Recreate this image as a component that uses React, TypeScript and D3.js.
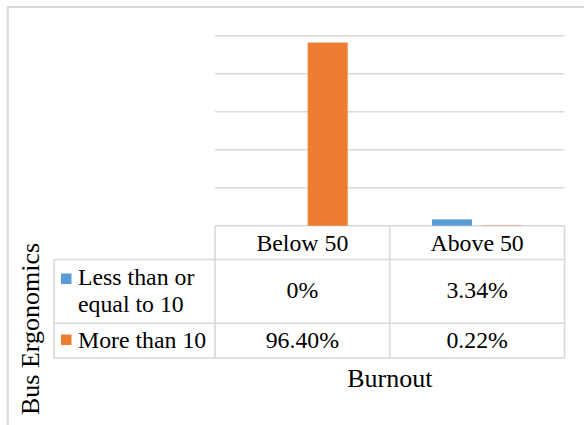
import React from "react";
import * as d3 from "d3";

const categories = ["Below 50", "Above 50"];
const seriesNames = ["Less than or equal to 10", "More than 10"];
const seriesLabelLines = [["Less than or", "equal to 10"], ["More than 10"]];
const lessOrEqual10 = [0, 0.0334];
const moreThan10 = [0.964, 0.0022];
const tableLabels = [
  ["0%", "3.34%"],
  ["96.40%", "0.22%"],
];
const yTicks = [0, 0.2, 0.4, 0.6, 0.8, 1.0];
const xTitle = "Burnout";
const yTitle = "Bus Ergonomics";

const colors = ["#5b9bd5", "#ed7d31"];
const seriesValues = [lessOrEqual10, moreThan10];

const FONT = "'Liberation Serif', 'Times New Roman', Times, serif";
const TABLE_FS = 23.8;

function T(props: any) {
  const { children, style, ...rest } = props;
  return (
    <text {...rest} fill="#000" style={{ fontFamily: FONT, ...(style || {}) }}>
      {children}
    </text>
  );
}

export default function App() {
  const W = 584;
  const H = 425;
  const plotLeft = 215;
  const plotRight = 564.5;
  const plotTop = 35.7;
  const plotBottom = 225.7;
  const tableLeft = 54;
  const headerBottom = 259.5;
  const rowSep = 323.3;
  const tableBottom = 358;
  const grid = "#d9d9d9";

  const x0 = d3.scaleBand<string>().domain(categories).range([plotLeft, plotRight]).padding(0);
  const x1 = d3
    .scaleBand<string>()
    .domain(seriesNames)
    .range([42.3, 132.7])
    .paddingInner(0.206)
    .paddingOuter(0);
  const y = d3.scaleLinear().domain([0, 1]).range([plotBottom, plotTop]);

  const colEdges = [plotLeft, ...categories.map((c) => (x0(c) as number) + x0.bandwidth())];

  return (
    <svg
      width={W}
      height={H}
      style={{ position: "absolute", left: 0, top: 0, background: "#fff", fontFamily: FONT }}
    >
      <rect x={0} y={0} width={W} height={H} fill="#fff" />
      {/* outer chart border */}
      <rect x={7.8} y={7} width={W + 20} height={H + 20} fill="none" stroke={grid} strokeWidth={2} />

      {/* gridlines */}
      {yTicks.map((t) => (
        <line
          key={t}
          x1={plotLeft}
          x2={plotRight}
          y1={y(t)}
          y2={y(t)}
          stroke={grid}
          strokeWidth={1.6}
        />
      ))}

      {/* bars */}
      {categories.map((c, ci) =>
        seriesNames.map((s, si) => {
          const v = seriesValues[si][ci];
          const bx = (x0(c) as number) + (x1(s) as number);
          return (
            <rect
              key={c + s}
              x={bx}
              y={y(v)}
              width={x1.bandwidth()}
              height={y(0) - y(v)}
              fill={colors[si]}
            />
          );
        })
      )}

      {/* table lines */}
      {[headerBottom, rowSep, tableBottom].map((yy) => (
        <line key={"h" + yy} x1={tableLeft} x2={plotRight} y1={yy} y2={yy} stroke={grid} strokeWidth={1.6} />
      ))}
      {colEdges.map((xx) => (
        <line key={"v" + xx} x1={xx} x2={xx} y1={plotBottom} y2={tableBottom} stroke={grid} strokeWidth={1.6} />
      ))}
      <line x1={tableLeft} x2={tableLeft} y1={headerBottom} y2={tableBottom} stroke={grid} strokeWidth={1.6} />

      {/* header labels */}
      {categories.map((c) => (
        <T key={c} x={(x0(c) as number) + x0.bandwidth() / 2} y={251} textAnchor="middle" fontSize={TABLE_FS}>
          {c}
        </T>
      ))}

      {/* legend column */}
      <rect x={61} y={273.5} width={10.5} height={10.5} fill={colors[0]} />
      <T x={78} y={284.5} fontSize={TABLE_FS}>
        {seriesLabelLines[0][0]}
      </T>
      <T x={78} y={311.7} fontSize={TABLE_FS}>
        {seriesLabelLines[0][1]}
      </T>
      <rect x={61} y={334.5} width={10.5} height={10.5} fill={colors[1]} />
      <T x={78} y={347.5} fontSize={TABLE_FS}>
        {seriesLabelLines[1][0]}
      </T>

      {/* values */}
      {categories.map((c, ci) => {
        const cx = (x0(c) as number) + x0.bandwidth() / 2;
        return (
          <g key={"val" + c}>
            <T x={cx} y={298.3} textAnchor="middle" fontSize={TABLE_FS}>
              {tableLabels[0][ci]}
            </T>
            <T x={cx} y={348} textAnchor="middle" fontSize={TABLE_FS}>
              {tableLabels[1][ci]}
            </T>
          </g>
        );
      })}

      {/* axis titles */}
      <T x={(plotLeft + plotRight) / 2} y={387.3} textAnchor="middle" fontSize={26}>
        {xTitle}
      </T>
      <T transform={`translate(38.5, 329) rotate(-90)`} textAnchor="middle" fontSize={26}>
        {yTitle}
      </T>
    </svg>
  );
}
